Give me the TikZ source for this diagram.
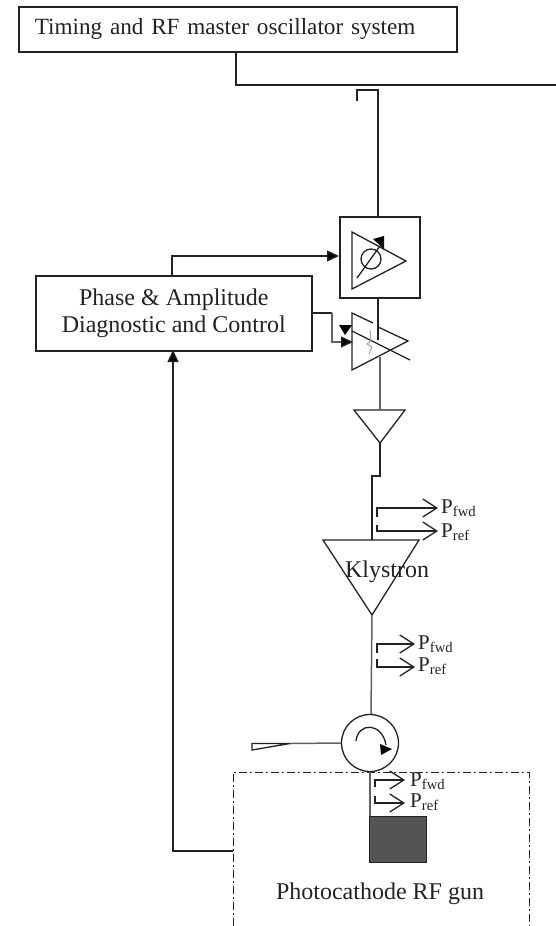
\documentclass[tikz,border=0pt]{standalone}
\usepackage{fontspec}
\setmainfont{Liberation Serif}
\usetikzlibrary{arrows.meta}
\definecolor{ink}{HTML}{222222}
\tikzset{
  x=1pt,y=-1pt,
  wire/.style={draw=ink,line width=1.3pt,line join=miter},
  greywire/.style={draw=black!62,line width=1.5pt},
  boxed/.style={draw=ink,line width=1.6pt,fill=white,inner sep=0pt,align=center,text=ink,font=\fontsize{24}{27}\selectfont},
  tag/.style={font=\fontsize{21}{21}\selectfont,anchor=west,inner sep=0pt,text=ink},
  openarrow/.style={wire,-{Straight Barb[length=14pt,width=18pt,line width=1.3pt]}},
  solidarrow/.style={wire,-{Triangle[length=12pt,width=11pt,fill=black]}}
}
\newcommand{\PF}{P\textsubscript{fwd}}
\newcommand{\PR}{P\textsubscript{ref}}
\begin{document}
\begin{tikzpicture}
\useasboundingbox (0,0) rectangle (556,926);
% top
\node[boxed,minimum width=438pt,minimum height=45pt,anchor=north west,text width=430pt,align=left,font=\fontsize{23.2}{27}\selectfont] (master) at (18,6) {\hspace*{12pt}Timing and RF master oscillator system};
\coordinate (ml) at (236,51.5);
\coordinate (mr) at (556,85);
\draw[wire] (ml) |- (mr);
% stub + feed
\coordinate (stub) at (357,101);
\coordinate (feed) at (378,216);
\draw[wire] (stub) |- (378,90) -- (feed);
% phase shifter
\node[boxed,minimum width=80pt,minimum height=81pt,anchor=north west] (shift) at (339,216) {};
\draw[wire] (352,232) -- (406,261) -- (352,289) -- cycle;
\node[draw=ink,line width=1.3pt,circle,minimum size=20pt,inner sep=0pt] (phi) at (371,259) {};
\draw[wire] (357,278) -- (380,246);
\fill[black] (373,239) -- (384,236) -- (384,249) -- cycle;
% attenuator amp
\draw[wire] (378,327) -- (408,341) -- (352,370) -- (352,313) -- (373,323);
\draw[wire] (352,331) -- (410,360);
\draw[wire] (378,297) -- (378,340);
\draw[draw=black!35,line width=1pt] (370,330) -- (371,341) -- (367,344) -- (372,347) -- (369,354);
% control box
\node[boxed,minimum width=276pt,minimum height=75pt,anchor=north west] (ctrl) at (35,275) {\raisebox{-2pt}{Phase \& Amplitude}\\\raisebox{-2pt}{Diagnostic and Control}};
\draw[solidarrow] (172,275) |- (shift.west |- 0,256);
\coordinate (cj) at (332,313);
\draw[wire] (311,313) -- (cj);
\draw[greywire] (cj) -- (332,342) -- (342,342);
\draw[solidarrow] (342,342) -- (353,342);
\fill[black] (339,325) -- (352,325) -- (345,335) -- cycle;
% driver
\draw[wire] (354,410) -- (405,410) -- (380,443) -- cycle;
\draw[greywire] (380,357) -- (380,410);
\draw[wire] (380,443) -- (380,476) -- (372,476) -- (372,540);
% klystron
\draw[wire] (323,540) -- (419,540) -- (372,615) -- cycle;
\node[font=\fontsize{24}{27}\selectfont,inner sep=0pt,text=ink] (kly) at (387,572) {Klystron};
\draw[greywire] (372,615) -- (371,715);
% probes 1
\draw[openarrow] (377,517) |- (438,508);
\draw[openarrow] (377,525) |- (438,531);
\node[tag] (p1) at (441,508) {\PF};
\node[tag] (r1) at (441,532) {\PR};
% probes 2
\draw[openarrow] (377,653) |- (415,644);
\draw[openarrow] (377,659) |- (415,667);
\node[tag] (p2) at (418,644) {\PF};
\node[tag] (r2) at (418,666) {\PR};
% circulator
\node[draw=ink,line width=1.3pt,circle,minimum size=57pt,inner sep=0pt] (circ) at (370,743) {};
\draw[wire] (356,741) .. controls (358,722) and (382,722) .. (386,745);
\fill[black] (380,744) -- (392,749) -- (381,755) -- cycle;
\draw[greywire] (circ.west) -- (290,743.5);
\draw[wire,fill=white] (290,743.5) -- (252,743.5) -- (252,750) -- cycle;
% gun box
\draw[wire,line width=1pt,dash pattern=on 8pt off 3pt on 2pt off 3pt] (233,926) -- (233,772) -- (529,772) -- (529,926);
\draw[greywire] (circ.south) -- (370,816);
\draw[openarrow] (375,787) |- (405,780);
\draw[openarrow] (375,796) |- (405,803);
\node[tag] (p3) at (410,781) {\PF};
\node[tag] (r3) at (410,802) {\PR};
\node[draw=ink,line width=1.2pt,fill=black!67,minimum width=57pt,minimum height=46pt,anchor=north west,inner sep=0pt] (gun) at (369,816) {};
\node[font=\fontsize{24}{27}\selectfont,inner sep=0pt,text=ink] (guntext) at (380,894) {Photocathode RF gun};
% feedback
\coordinate (gl) at (233,851);
\draw[solidarrow] (gl) -| (173,350);
\end{tikzpicture}
\end{document}
